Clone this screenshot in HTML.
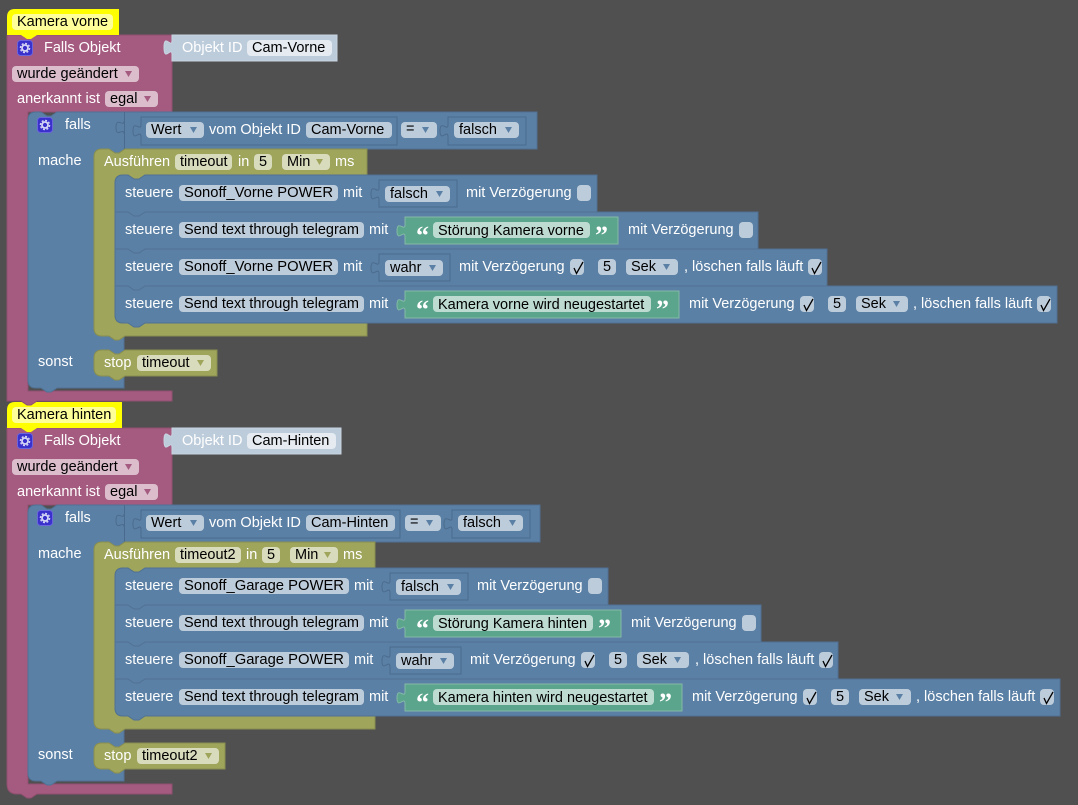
<!DOCTYPE html>
<html><head><meta charset="utf-8"><style>
html,body{margin:0;padding:0;background:#505050;width:1078px;height:805px;overflow:hidden}
svg{display:block}
text{font:14.5px "Liberation Sans",Arial,sans-serif;white-space:pre}
.w{fill:#fff}.k{fill:#000}
.pink{fill:#a55b80;stroke:#8f4f6f;stroke-width:1}
.blue{fill:#5b80a5;stroke:#4f7194;stroke-width:1}
.olive{fill:#9fa55b;stroke:#8a8f4f;stroke-width:1}
.green{fill:#5ba58c;stroke:#84b9a7;stroke-width:1}
.oid{fill:#bdccdb;stroke:#c8d5e2;stroke-width:1}
.yel{fill:#ffff00}
.inp{fill:#5b80a5;stroke:#4a6b8d;stroke-width:1}
.fb{fill:#bdccdb}.fp{fill:#dbbdcc}.fo{fill:#d9dbbd}.fg{fill:#bddbd1}.fy{fill:#ffff99}.fi{fill:#e5ebf1}
.tb{fill:#5b80a5}.tp{fill:#a55b80}.to{fill:#9fa55b}
.q{font:bold 26px "Liberation Serif",serif;fill:#fff}
.ln{stroke:#4a6b8d;stroke-width:1;fill:none}
</style></head><body>
<svg width="1078" height="805" viewBox="0 0 1078 805" xmlns="http://www.w3.org/2000/svg">
<defs>
<g id="gear"><rect x="0.5" y="0.5" width="15" height="15" rx="3" fill="#3a30cc" stroke="#6a64dd"/><circle cx="8" cy="8" r="3" fill="none" stroke="#d5d5f5" stroke-width="1.8"/><circle cx="8" cy="8" r="4.6" fill="none" stroke="#d5d5f5" stroke-width="1.4" stroke-dasharray="2 1.6"/></g>
<g id="cb"><rect x="0" y="0" width="14" height="16" rx="4" fill="#bdccdb"/><path d="M4 9l2.500 5.500 6.500-11.500" fill="none" stroke="#000" stroke-width="1.300"/></g>
</defs>

<!-- GROUP 2 -->
<g transform="translate(0,393)">
<path class="pink" d="M7 35H172V112H28V391H172V401H37l-6 4h-4l-6-4H17Q7 401 7 391Z"/>
<path class="yel" d="M15 9H122V35H37l-6 4h-4l-6-4H7V17Q7 9 15 9Z"/>
<rect class="fy" x="12" y="14" width="104" height="16" rx="4"/>
<text class="k" x="17" y="26">Kamera hinten</text>
<path class="oid" d="M172 35H341V61H172V55c0-10-8 8-8-7.500s8 2.500 8-7.500Z"/>
<use href="#gear" x="17" y="40"/>
<text class="w" x="44" y="52">Falls Objekt</text>
<text class="w" x="182" y="52">Objekt ID</text>
<rect class="fi" x="247" y="40" width="89" height="16" rx="4"/>
<text class="k" x="252" y="52">Cam-Hinten</text>
<rect class="fp" x="12" y="66" width="127" height="16" rx="4"/>
<text class="k" x="17" y="78">wurde geändert</text><path class="tp" d="M125 71h7l-3.500 6z"/>
<text class="w" x="17" y="103">anerkannt ist</text>
<rect class="fp" x="105" y="91" width="53" height="16" rx="4"/>
<text class="k" x="110" y="103">egal</text><path class="tp" d="M144 96h7l-3.500 6z"/>

<path class="blue" d="M36 112H41l6 4h4l6-4H540V149H124V388H57l-6 4h-4l-6-4H36Q28 388 28 380V120Q28 112 36 112Z"/>
<path class="ln" d="M124.500 112V149"/>
<path class="ln" d="M124 121c0 7-8-5-8 6.500s8-1 8 6.500"/>
<use href="#gear" x="37" y="117"/>
<text class="w" x="65" y="129">falls</text>
<text class="w" x="38" y="165">mache</text>
<text class="w" x="38" y="366">sonst</text>
<path class="inp" d="M141 117H400V145H141V137c0-9-8 6-8-6s8 1 8-6Z"/>
<rect class="fb" x="146" y="122" width="58" height="16" rx="4"/>
<text class="k" x="151" y="134">Wert</text><path class="tb" d="M190 127h7l-3.500 6z"/>
<text class="w" x="209" y="134">vom Objekt ID</text>
<rect class="fb" x="306" y="122" width="89" height="16" rx="4"/>
<text class="k" x="311" y="134">Cam-Hinten</text>
<rect class="fb" x="405" y="122" width="36" height="16" rx="4"/>
<text class="k" x="410" y="133">=</text><path class="tb" d="M426 127h7l-3.500 6z"/>
<path class="inp" d="M452 117H530V145H452V137c0-9-8 6-8-6s8 1 8-6Z"/>
<rect class="fb" x="458" y="122" width="65" height="16" rx="4"/>
<text class="k" x="463" y="134">falsch</text><path class="tb" d="M509 127h7l-3.500 6z"/>

<path class="olive" d="M102 149H109l6 4h4l6-4H375V175H145l-6 4h-5l-6-4H123Q115 175 115 183V315Q115 323 123 323H375V336H125l-6 4h-4l-6-4H102Q94 336 94 328V157Q94 149 102 149Z"/>
<text class="w" x="104" y="166">Ausführen</text>
<rect class="fo" x="175" y="154" width="66" height="16" rx="4"/>
<text class="k" x="180" y="166">timeout2</text>
<text class="w" x="246" y="166">in</text>
<rect class="fo" x="262" y="154" width="18" height="16" rx="4"/>
<text class="k" x="267" y="166">5</text>
<rect class="fo" x="290" y="154" width="48" height="16" rx="4"/>
<text class="k" x="295" y="166">Min</text><path class="to" d="M324 159h7l-3.500 6z"/>
<text class="w" x="343" y="166">ms</text>

<!-- row 4 -->
<path class="blue" d="M115 286H1060V323H145l-6 4h-5l-6-4H123Q115 323 115 315Z"/>
<text class="w" x="125" y="308">steuere</text>
<rect class="fb" x="179" y="296" width="185" height="16" rx="4"/>
<text class="k" x="184" y="308">Send text through telegram</text>
<text class="w" x="369" y="308">mit</text>
<path class="green" d="M405 291H682V318H405V311c0-9-8 6-8-6s8 1 8-6Z"/>
<text class="q" x="416" y="318">“</text>
<rect class="fg" x="433" y="296" width="221" height="16" rx="4"/>
<text class="k" x="438" y="309">Kamera hinten wird neugestartet</text>
<text class="q" x="659" y="318">”</text>
<text class="w" x="692" y="308">mit Verzögerung</text>
<use href="#cb" x="803" y="296"/>
<rect class="fb" x="831" y="296" width="18" height="16" rx="4"/>
<text class="k" x="836" y="308">5</text>
<rect class="fb" x="859" y="296" width="52" height="16" rx="4"/>
<text class="k" x="864" y="308">Sek</text><path class="tb" d="M896 301h7l-3.500 6z"/>
<text class="w" x="916" y="308">, löschen falls läuft</text>
<use href="#cb" x="1040" y="296"/>

<!-- row 3 -->
<path class="blue" d="M115 249H838V286H145l-6 4h-5l-6-4H115Z"/>
<text class="w" x="125" y="271">steuere</text>
<rect class="fb" x="179" y="259" width="170" height="16" rx="4"/>
<text class="k" x="184" y="271" textLength="160" lengthAdjust="spacingAndGlyphs">Sonoff_Garage POWER</text>
<text class="w" x="354" y="271">mit</text>
<path class="inp" d="M390 254H461V281H390V274c0-9-8 6-8-6s8 1 8-6Z"/>
<rect class="fb" x="396" y="260" width="58" height="16" rx="4"/>
<text class="k" x="401" y="272">wahr</text><path class="tb" d="M440 265h7l-3.500 6z"/>
<text class="w" x="470" y="271">mit Verzögerung</text>
<use href="#cb" x="581" y="259"/>
<rect class="fb" x="609" y="259" width="18" height="16" rx="4"/>
<text class="k" x="614" y="271">5</text>
<rect class="fb" x="637" y="259" width="52" height="16" rx="4"/>
<text class="k" x="642" y="271">Sek</text><path class="tb" d="M674 264h7l-3.500 6z"/>
<text class="w" x="695" y="271">, löschen falls läuft</text>
<use href="#cb" x="819" y="259"/>

<!-- row 2 -->
<path class="blue" d="M115 212H761V249H145l-6 4h-5l-6-4H115Z"/>
<text class="w" x="125" y="234">steuere</text>
<rect class="fb" x="179" y="222" width="185" height="16" rx="4"/>
<text class="k" x="184" y="234">Send text through telegram</text>
<text class="w" x="369" y="234">mit</text>
<path class="green" d="M405 217H621V244H405V237c0-9-8 6-8-6s8 1 8-6Z"/>
<text class="q" x="416" y="244">“</text>
<rect class="fg" x="433" y="222" width="160" height="16" rx="4"/>
<text class="k" x="438" y="235">Störung Kamera hinten</text>
<text class="q" x="598" y="244">”</text>
<text class="w" x="631" y="234">mit Verzögerung</text>
<rect class="fb" x="742" y="222" width="14" height="16" rx="4"/>

<!-- row 1 -->
<path class="blue" d="M123 175H128l6 4h5l6-4H608V212H145l-6 4h-5l-6-4H115V183Q115 175 123 175Z"/>
<text class="w" x="125" y="197">steuere</text>
<rect class="fb" x="179" y="185" width="170" height="16" rx="4"/>
<text class="k" x="184" y="197" textLength="160" lengthAdjust="spacingAndGlyphs">Sonoff_Garage POWER</text>
<text class="w" x="354" y="197">mit</text>
<path class="inp" d="M390 180H468V207H390V200c0-9-8 6-8-6s8 1 8-6Z"/>
<rect class="fb" x="396" y="186" width="65" height="16" rx="4"/>
<text class="k" x="401" y="198">falsch</text><path class="tb" d="M447 191h7l-3.500 6z"/>
<text class="w" x="477" y="197">mit Verzögerung</text>
<rect class="fb" x="588" y="185" width="14" height="16" rx="4"/>

<path class="olive" d="M102 350H109l6 4h4l6-4H225V376H125l-6 4h-4l-6-4H102Q94 376 94 368V358Q94 350 102 350Z"/>
<text class="w" x="104" y="367">stop</text>
<rect class="fo" x="137" y="355" width="82" height="16" rx="4"/>
<text class="k" x="142" y="367">timeout2</text><path class="to" d="M205 360h7l-3.500 6z"/>
</g>

<!-- GROUP 1 -->
<g>
<path class="pink" d="M7 35H172V112H28V391H172V401H37l-6 4h-4l-6-4H7Z"/>
<path class="yel" d="M15 9H119V35H37l-6 4h-4l-6-4H7V17Q7 9 15 9Z"/>
<rect class="fy" x="12" y="14" width="101" height="16" rx="4"/>
<text class="k" x="17" y="26">Kamera vorne</text>
<path class="oid" d="M172 35H337V61H172V55c0-10-8 8-8-7.500s8 2.500 8-7.500Z"/>
<use href="#gear" x="17" y="40"/>
<text class="w" x="44" y="52">Falls Objekt</text>
<text class="w" x="182" y="52">Objekt ID</text>
<rect class="fi" x="247" y="40" width="85" height="16" rx="4"/>
<text class="k" x="252" y="52">Cam-Vorne</text>
<rect class="fp" x="12" y="66" width="127" height="16" rx="4"/>
<text class="k" x="17" y="78">wurde geändert</text><path class="tp" d="M125 71h7l-3.500 6z"/>
<text class="w" x="17" y="103">anerkannt ist</text>
<rect class="fp" x="105" y="91" width="53" height="16" rx="4"/>
<text class="k" x="110" y="103">egal</text><path class="tp" d="M144 96h7l-3.500 6z"/>

<path class="blue" d="M36 112H41l6 4h4l6-4H537V149H124V388H57l-6 4h-4l-6-4H36Q28 388 28 380V120Q28 112 36 112Z"/>
<path class="ln" d="M124.500 112V149"/>
<path class="ln" d="M124 121c0 7-8-5-8 6.500s8-1 8 6.500"/>
<use href="#gear" x="37" y="117"/>
<text class="w" x="65" y="129">falls</text>
<text class="w" x="38" y="165">mache</text>
<text class="w" x="38" y="366">sonst</text>
<path class="inp" d="M141 117H397V145H141V137c0-9-8 6-8-6s8 1 8-6Z"/>
<rect class="fb" x="146" y="122" width="58" height="16" rx="4"/>
<text class="k" x="151" y="134">Wert</text><path class="tb" d="M190 127h7l-3.500 6z"/>
<text class="w" x="209" y="134">vom Objekt ID</text>
<rect class="fb" x="306" y="122" width="86" height="16" rx="4"/>
<text class="k" x="311" y="134">Cam-Vorne</text>
<rect class="fb" x="401" y="122" width="36" height="16" rx="4"/>
<text class="k" x="406" y="133">=</text><path class="tb" d="M422 127h7l-3.500 6z"/>
<path class="inp" d="M448 117H526V145H448V137c0-9-8 6-8-6s8 1 8-6Z"/>
<rect class="fb" x="454" y="122" width="65" height="16" rx="4"/>
<text class="k" x="459" y="134">falsch</text><path class="tb" d="M505 127h7l-3.500 6z"/>

<path class="olive" d="M102 149H109l6 4h4l6-4H367V175H145l-6 4h-5l-6-4H123Q115 175 115 183V315Q115 323 123 323H367V336H125l-6 4h-4l-6-4H102Q94 336 94 328V157Q94 149 102 149Z"/>
<text class="w" x="104" y="166">Ausführen</text>
<rect class="fo" x="175" y="154" width="57" height="16" rx="4"/>
<text class="k" x="180" y="166">timeout</text>
<text class="w" x="238" y="166">in</text>
<rect class="fo" x="254" y="154" width="18" height="16" rx="4"/>
<text class="k" x="259" y="166">5</text>
<rect class="fo" x="282" y="154" width="48" height="16" rx="4"/>
<text class="k" x="287" y="166">Min</text><path class="to" d="M316 159h7l-3.500 6z"/>
<text class="w" x="335" y="166">ms</text>

<!-- row 4 -->
<path class="blue" d="M115 286H1057V323H145l-6 4h-5l-6-4H123Q115 323 115 315Z"/>
<text class="w" x="125" y="308">steuere</text>
<rect class="fb" x="179" y="296" width="185" height="16" rx="4"/>
<text class="k" x="184" y="308">Send text through telegram</text>
<text class="w" x="369" y="308">mit</text>
<path class="green" d="M405 291H679V318H405V311c0-9-8 6-8-6s8 1 8-6Z"/>
<text class="q" x="416" y="318">“</text>
<rect class="fg" x="433" y="296" width="218" height="16" rx="4"/>
<text class="k" x="438" y="309">Kamera vorne wird neugestartet</text>
<text class="q" x="656" y="318">”</text>
<text class="w" x="689" y="308">mit Verzögerung</text>
<use href="#cb" x="800" y="296"/>
<rect class="fb" x="828" y="296" width="18" height="16" rx="4"/>
<text class="k" x="833" y="308">5</text>
<rect class="fb" x="856" y="296" width="52" height="16" rx="4"/>
<text class="k" x="861" y="308">Sek</text><path class="tb" d="M893 301h7l-3.500 6z"/>
<text class="w" x="913" y="308">, löschen falls läuft</text>
<use href="#cb" x="1037" y="296"/>

<!-- row 3 -->
<path class="blue" d="M115 249H827V286H145l-6 4h-5l-6-4H115Z"/>
<text class="w" x="125" y="271">steuere</text>
<rect class="fb" x="179" y="259" width="159" height="16" rx="4"/>
<text class="k" x="184" y="271" textLength="149" lengthAdjust="spacingAndGlyphs">Sonoff_Vorne POWER</text>
<text class="w" x="343" y="271">mit</text>
<path class="inp" d="M379 254H450V281H379V274c0-9-8 6-8-6s8 1 8-6Z"/>
<rect class="fb" x="385" y="260" width="58" height="16" rx="4"/>
<text class="k" x="390" y="272">wahr</text><path class="tb" d="M429 265h7l-3.500 6z"/>
<text class="w" x="459" y="271">mit Verzögerung</text>
<use href="#cb" x="570" y="259"/>
<rect class="fb" x="598" y="259" width="18" height="16" rx="4"/>
<text class="k" x="603" y="271">5</text>
<rect class="fb" x="626" y="259" width="52" height="16" rx="4"/>
<text class="k" x="631" y="271">Sek</text><path class="tb" d="M663 264h7l-3.500 6z"/>
<text class="w" x="684" y="271">, löschen falls läuft</text>
<use href="#cb" x="808" y="259"/>

<!-- row 2 -->
<path class="blue" d="M115 212H758V249H145l-6 4h-5l-6-4H115Z"/>
<text class="w" x="125" y="234">steuere</text>
<rect class="fb" x="179" y="222" width="185" height="16" rx="4"/>
<text class="k" x="184" y="234">Send text through telegram</text>
<text class="w" x="369" y="234">mit</text>
<path class="green" d="M405 217H618V244H405V237c0-9-8 6-8-6s8 1 8-6Z"/>
<text class="q" x="416" y="244">“</text>
<rect class="fg" x="433" y="222" width="157" height="16" rx="4"/>
<text class="k" x="438" y="235">Störung Kamera vorne</text>
<text class="q" x="595" y="244">”</text>
<text class="w" x="628" y="234">mit Verzögerung</text>
<rect class="fb" x="739" y="222" width="14" height="16" rx="4"/>

<!-- row 1 -->
<path class="blue" d="M123 175H128l6 4h5l6-4H597V212H145l-6 4h-5l-6-4H115V183Q115 175 123 175Z"/>
<text class="w" x="125" y="197">steuere</text>
<rect class="fb" x="179" y="185" width="159" height="16" rx="4"/>
<text class="k" x="184" y="197" textLength="149" lengthAdjust="spacingAndGlyphs">Sonoff_Vorne POWER</text>
<text class="w" x="343" y="197">mit</text>
<path class="inp" d="M379 180H457V207H379V200c0-9-8 6-8-6s8 1 8-6Z"/>
<rect class="fb" x="385" y="186" width="65" height="16" rx="4"/>
<text class="k" x="390" y="198">falsch</text><path class="tb" d="M436 191h7l-3.500 6z"/>
<text class="w" x="466" y="197">mit Verzögerung</text>
<rect class="fb" x="577" y="185" width="14" height="16" rx="4"/>

<path class="olive" d="M102 350H109l6 4h4l6-4H217V376H125l-6 4h-4l-6-4H102Q94 376 94 368V358Q94 350 102 350Z"/>
<text class="w" x="104" y="367">stop</text>
<rect class="fo" x="137" y="355" width="74" height="16" rx="4"/>
<text class="k" x="142" y="367">timeout</text><path class="to" d="M197 360h7l-3.500 6z"/>
</g>
</svg>
</body></html>
